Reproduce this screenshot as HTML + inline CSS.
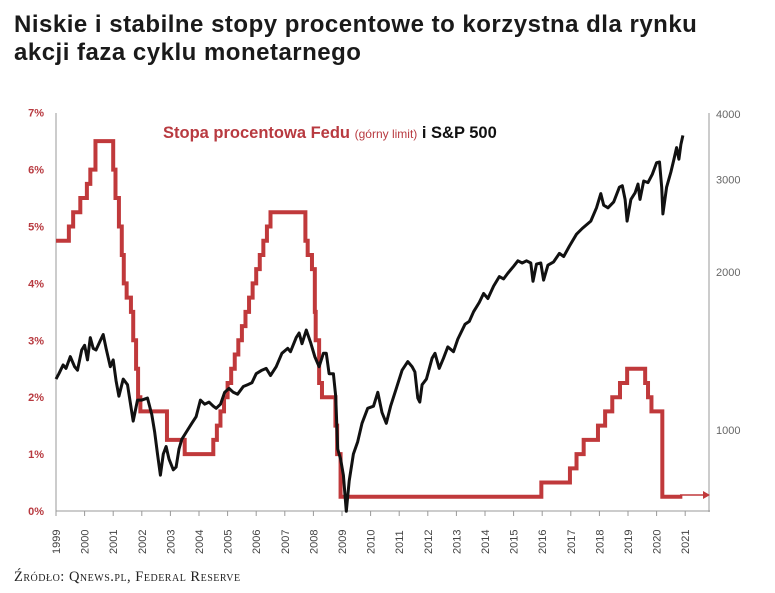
<!DOCTYPE html>
<html><head><meta charset="utf-8"><style>
body{margin:0;background:#fff;width:775px;height:593px;overflow:hidden;font-family:"Liberation Sans",sans-serif}
.t{position:absolute;left:14px;top:11px;font-size:24px;font-weight:bold;line-height:28px;color:#1a1a1a;letter-spacing:0.5px}
.src{position:absolute;left:14px;top:569px;font-family:"Liberation Serif",serif;font-variant:small-caps;font-size:14.5px;letter-spacing:0.5px;color:#222}
</style></head><body>
<div class="t">Niskie i stabilne stopy procentowe to korzystna dla rynku<br>akcji faza cyklu monetarnego</div>
<svg id="c" width="775" height="593" style="position:absolute;left:0;top:0">
<g font-family="Liberation Sans,sans-serif">
<line x1="56" y1="113" x2="56" y2="512" stroke="#999" stroke-width="1"/>
<line x1="56" y1="511" x2="710" y2="511" stroke="#999" stroke-width="1"/>
<line x1="709" y1="113" x2="709" y2="512" stroke="#999" stroke-width="1"/>
<g id="lt" font-size="11" fill="#b83a40" font-weight="bold" text-anchor="end"></g>
<g id="rt" font-size="11" fill="#666"></g>
<g id="xt" font-size="11" fill="#444"></g>
<text x="163" y="138" font-size="16.5" font-weight="bold" fill="#b83a40">Stopa procentowa Fedu <tspan font-size="12" font-weight="normal">(górny limit)</tspan> <tspan fill="#111">i S&amp;P 500</tspan></text>
<path id="fed" fill="none" stroke="#c0393b" stroke-width="4" stroke-linejoin="miter"/>
<path id="sp" fill="none" stroke="#111" stroke-width="3" stroke-linejoin="round"/>
<line x1="680" y1="495" x2="703" y2="495" stroke="#c0393b" stroke-width="1.5"/>
<polygon points="703,491 710,495 703,499" fill="#c0393b"/>
</g></svg>
<div class="src">Źródło: Qnews.pl, Federal Reserve</div>
<script>
var X=function(y){return 56+28.6*(y-1999)},Yr=function(r){return 511-56.9*r},Ys=function(v){return 430-525*Math.log10(v/1000)};
var lt='',rt='',xt='';
for(var i=0;i<=7;i++)lt+='<text x="44" y="'+(Yr(i)+4)+'">'+i+'%</text>';
[1000,2000,3000,4000].forEach(function(v){rt+='<text x="716" y="'+(Ys(v)+4)+'">'+v+'</text>'});
for(var y=1999;y<=2021;y++){var x=X(y);xt+='<line x1="'+x+'" y1="511" x2="'+x+'" y2="516" stroke="#999"/><text transform="translate('+(x+4)+',554) rotate(-90)">'+y+'</text>';}
document.getElementById('lt').innerHTML=lt;document.getElementById('rt').innerHTML=rt;document.getElementById('xt').innerHTML=xt;
var f=[[1999,4.75],[1999.45,5],[1999.6,5.25],[1999.85,5.5],[2000.08,5.75],[2000.2,6],[2000.38,6.5],[2000.98,6.5],[2001.0,6],[2001.08,5.5],[2001.2,5],[2001.3,4.5],[2001.37,4],[2001.47,3.75],[2001.62,3.5],[2001.7,3],[2001.8,2.5],[2001.87,2],[2001.95,1.75],[2002.85,1.75],[2002.88,1.25],[2003.48,1.25],[2003.5,1]];
var r=1.25;for(var t=2004.5;r<=5.25;t+=0.125){f.push([t-0.02,r-0.25]);f.push([t,r]);r+=0.25;}
f=f.concat([[2007.7,5.25],[2007.72,4.75],[2007.8,4.5],[2007.95,4.25],[2008.05,3.5],[2008.08,3],[2008.2,2.25],[2008.3,2],[2008.75,2],[2008.77,1.5],[2008.83,1],[2008.95,0.25],[2015.95,0.25],[2015.97,0.5],[2016.95,0.5],[2016.97,0.75],[2017.2,1],[2017.45,1.25],[2017.95,1.5],[2018.2,1.75],[2018.45,2],[2018.72,2.25],[2018.97,2.5],[2019.55,2.5],[2019.6,2.25],[2019.7,2],[2019.82,1.75],[2020.16,1.75],[2020.2,0.25],[2020.9,0.25]]);
var d='',p=null;f.forEach(function(a,i){var x=X(a[0]),y=Yr(a[1]);if(i==0)d='M'+x+' '+y;else{d+=' L'+x+' '+Yr(p[1])+' L'+x+' '+y;}p=a;});
document.getElementById('fed').setAttribute('d',d);
var s=[[1999,1250],[1999.1,1280],[1999.25,1330],[1999.35,1310],[1999.5,1380],[1999.65,1320],[1999.75,1300],[1999.9,1420],[2000.0,1450],[2000.1,1360],[2000.2,1500],[2000.3,1430],[2000.4,1420],[2000.55,1480],[2000.65,1520],[2000.75,1430],[2000.9,1320],[2001.0,1360],[2001.1,1240],[2001.2,1160],[2001.35,1250],[2001.5,1220],[2001.7,1040],[2001.85,1140],[2002.0,1140],[2002.2,1150],[2002.35,1070],[2002.45,990],[2002.55,900],[2002.65,820],[2002.75,900],[2002.85,930],[2002.95,880],[2003.1,840],[2003.2,850],[2003.3,920],[2003.4,960],[2003.6,1000],[2003.75,1030],[2003.9,1060],[2004.05,1140],[2004.2,1120],[2004.35,1130],[2004.5,1110],[2004.6,1100],[2004.75,1120],[2004.9,1180],[2005.05,1200],[2005.2,1180],[2005.35,1170],[2005.55,1210],[2005.7,1220],[2005.85,1230],[2006.0,1280],[2006.2,1300],[2006.35,1310],[2006.5,1270],[2006.7,1320],[2006.9,1400],[2007.1,1430],[2007.2,1410],[2007.4,1500],[2007.5,1530],[2007.6,1460],[2007.75,1550],[2007.9,1470],[2008.05,1380],[2008.2,1320],[2008.35,1400],[2008.45,1400],[2008.55,1280],[2008.7,1280],[2008.78,1160],[2008.85,920],[2008.95,880],[2009.05,820],[2009.15,700],[2009.25,800],[2009.4,900],[2009.55,950],[2009.7,1030],[2009.9,1100],[2010.1,1110],[2010.25,1180],[2010.4,1080],[2010.55,1030],[2010.7,1110],[2010.9,1200],[2011.1,1300],[2011.3,1350],[2011.45,1320],[2011.55,1290],[2011.65,1150],[2011.72,1130],[2011.8,1220],[2011.95,1250],[2012.15,1370],[2012.25,1400],[2012.4,1310],[2012.55,1370],[2012.7,1440],[2012.9,1410],[2013.05,1490],[2013.3,1590],[2013.45,1610],[2013.6,1680],[2013.8,1750],[2013.95,1820],[2014.1,1780],[2014.3,1880],[2014.5,1960],[2014.65,1940],[2014.8,1990],[2015.0,2050],[2015.15,2100],[2015.3,2080],[2015.45,2100],[2015.6,2080],[2015.68,1920],[2015.8,2070],[2015.95,2080],[2016.05,1930],[2016.2,2060],[2016.4,2090],[2016.6,2170],[2016.75,2140],[2016.95,2240],[2017.2,2360],[2017.4,2420],[2017.7,2500],[2017.9,2650],[2018.05,2820],[2018.15,2680],[2018.3,2650],[2018.5,2720],[2018.7,2900],[2018.8,2920],[2018.9,2750],[2018.97,2500],[2019.1,2750],[2019.25,2830],[2019.35,2940],[2019.42,2750],[2019.55,2980],[2019.7,2960],[2019.85,3070],[2020.0,3230],[2020.1,3240],[2020.18,2900],[2020.22,2580],[2020.35,2900],[2020.5,3100],[2020.6,3270],[2020.7,3450],[2020.78,3280],[2020.85,3500],[2020.92,3640]];
document.getElementById('sp').setAttribute('d','M'+s.map(function(a){return X(a[0]).toFixed(1)+' '+Ys(a[1]).toFixed(1)}).join(' L'));
</script>
</body></html>
